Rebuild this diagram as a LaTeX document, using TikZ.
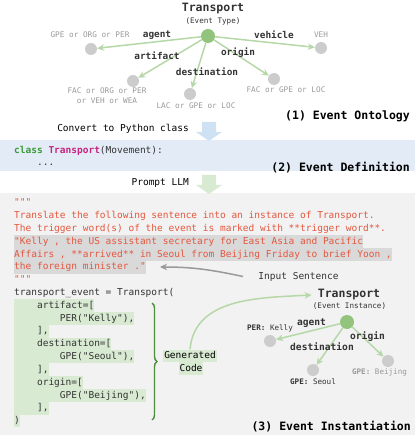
\documentclass[tikz,border=0pt]{standalone}
\usepackage{fontspec}
\setmonofont{DejaVu Sans Mono}
\renewcommand{\familydefault}{\ttdefault}
\usetikzlibrary{arrows.meta,decorations.pathreplacing}
\definecolor{edgegreen}{HTML}{B6D7A8}
\definecolor{nodegreen}{HTML}{93C47D}
\definecolor{nodegray}{HTML}{CCCCCC}
\definecolor{labgray}{HTML}{999999}
\definecolor{darktext}{HTML}{333333}
\definecolor{bggray}{HTML}{F2F2F2}
\definecolor{bandblue}{HTML}{E3ECF6}
\definecolor{arrowblue}{HTML}{CFE2F3}
\definecolor{arrowgreen}{HTML}{D9EAD3}
\definecolor{hlgreen}{HTML}{D9EAD3}
\definecolor{hlgray}{HTML}{D9D9D9}
\definecolor{codered}{HTML}{E4573F}
\definecolor{kwgreen}{HTML}{3A9A3A}
\definecolor{kwmag}{HTML}{C8237F}
\definecolor{bracegreen}{HTML}{4E8C3E}
\definecolor{ptrgray}{HTML}{999999}
\tikzset{
  evt/.style={circle, fill=nodegreen, minimum size=14pt, inner sep=0pt},
  arg/.style={circle, fill=nodegray, minimum size=12pt, inner sep=0pt},
  rel/.style={draw=edgegreen, line width=1.5pt, -{Stealth[length=7pt,width=6.5pt]}},
  typelab/.style={text=labgray, font=\ttfamily\fontsize{7.7}{9}\selectfont, inner sep=0pt},
  rolelab/.style={text=darktext, font=\ttfamily\fontsize{9.4}{11}\selectfont\bfseries, inner sep=0pt},
  titlelab/.style={text=darktext, font=\ttfamily\fontsize{11.5}{13}\selectfont\bfseries, inner sep=0pt},
  sublab/.style={text=darktext, font=\ttfamily\fontsize{7.6}{9}\selectfont, inner sep=0pt},
  sectlab/.style={text=black, font=\ttfamily\fontsize{11.5}{13}\selectfont\bfseries, inner sep=0pt, anchor=east},
  plain/.style={text=black, font=\ttfamily\fontsize{9.5}{11}\selectfont, inner sep=0pt},
  codeline/.style={font=\ttfamily\fontsize{9.5}{11}\selectfont, anchor=west, inner sep=0pt,
     text height=9.2pt, text depth=3.62pt},
  redline/.style={codeline, text=codered},
  greenline/.style={codeline, text=darktext, fill=hlgreen},
  grayline/.style={codeline, text=codered, fill=hlgray},
}
\begin{document}
\begin{tikzpicture}[x=1pt,y=-1pt]
\useasboundingbox (0,0) rectangle (415,435);
% backgrounds
\fill[bandblue] (0,140) rectangle (415,171);
\fill[bggray] (0,193) rectangle (415,435);
% block arrows
\fill[arrowblue] (202,122)--(216,122)--(216,132)--(222,132)--(209,141)--(196,132)--(202,132)--cycle;
\fill[arrowgreen] (202,175)--(216,175)--(216,185)--(222,185)--(209,194)--(196,185)--(202,185)--cycle;

% ---------- (1) Event Ontology ----------
\node[titlelab] (ttl) at (213,9) {Transport};
\node[sublab] (ttlsub) at (213,21) {(Event Type)};
\node[evt] (t) at (208,36) {};
\node[arg] (g1) at (91,49) {};
\node[arg] (g2) at (133,81) {};
\node[arg] (g3) at (190,94) {};
\node[arg] (g4) at (274,79) {};
\node[arg] (g5) at (321,48) {};
\draw[rel] (t) -- (g1);
\draw[rel] (t) -- (g2);
\draw[rel] (t) -- (g3);
\draw[rel] (t) -- (g4);
\draw[rel] (t) -- (g5);
\node[typelab] (l1) at (90,35) {GPE or ORG or PER};
\node[typelab] (l5) at (321,35) {VEH};
\node[typelab] (l2a) at (107,91) {FAC or ORG or PER};
\node[typelab] (l2b) at (107,101) {or VEH or WEA};
\node[typelab] (l3) at (196,106) {LAC or GPE or LOC};
\node[typelab] (l4) at (286,90) {FAC or GPE or LOC};
\node[rolelab] (r1) at (157,35) {agent};
\node[rolelab] (r5) at (274,35) {vehicle};
\node[rolelab] (r2) at (157,56) {artifact};
\node[rolelab] (r3) at (207,72) {destination};
\node[rolelab] (r4) at (238,53) {origin};
\node[sectlab] (s1) at (410,116) {(1) Event Ontology};

% ---------- (2) Event Definition ----------
\node[plain, anchor=east] (conv) at (189,129) {Convert to Python class};
\node[codeline] (cls) at (14,151) {\textcolor{kwgreen}{\bfseries class} \textcolor{kwmag}{\bfseries Transport}\textcolor{darktext}{(Movement):}};
\node[codeline, text=darktext] (dots) at (37,163) {...};
\node[sectlab] (s2) at (410,168) {(2) Event Definition};
\node[plain, anchor=east] (prompt) at (189,183) {Prompt LLM};

% ---------- (3) Event Instantiation ----------
\node[redline] (q1) at (14,203) {"""};
\node[redline] (p1) at (14,215.8) {Translate the following sentence into an instance of Transport.};
\node[redline] (p2) at (14,228.6) {The trigger word(s) of the event is marked with **trigger word**.};
\node[grayline] (k1) at (14,241.5) {"Kelly , the US assistant secretary for East Asia and Pacific\ };
\node[grayline] (k2) at (14,254.3) {Affairs , **arrived** in Seoul from Beijing Friday to brief Yoon ,\ };
\node[grayline] (k3) at (14,267.1) {the foreign minister ."\ };
\node[redline] (q2) at (14,279.9) {"""};
\node[codeline, text=darktext] (c0) at (14,292.7) {transport\_event = Transport(};
\node[greenline] (c1) at (14,305.6) {\hphantom{0000}artifact=[\hspace{2.5pt}};
\node[greenline] (c2) at (14,318.4) {\hphantom{00000000}PER("Kelly"),\hspace{2.5pt}};
\node[greenline] (c3) at (14,331.2) {\hphantom{0000}],\hspace{1pt}};
\node[greenline] (c4) at (14,344) {\hphantom{0000}destination=[\hspace{2.5pt}};
\node[greenline] (c5) at (14,356.8) {\hphantom{00000000}GPE("Seoul"),\hspace{2.5pt}};
\node[greenline] (c6) at (14,369.7) {\hphantom{0000}],\hspace{1pt}};
\node[greenline] (c7) at (14,382.5) {\hphantom{0000}origin=[\hspace{2.5pt}};
\node[greenline] (c8) at (14,395.3) {\hphantom{00000000}GPE("Beijing"),\hspace{2.5pt}};
\node[greenline] (c9) at (14,408.1) {\hphantom{0000}],\hspace{1pt}};
\node[greenline] (c10) at (14,420.9) {)\hspace{1pt}};

% input sentence pointer
\node[plain, text=darktext] (inp) at (298.5,277) {Input Sentence};
\coordinate (ptrTail) at (243,276.5);
\coordinate (ptrTip) at (160,267);
\draw[draw=ptrgray, line width=1.5pt, -{Stealth[length=7pt,width=6.5pt]}] (ptrTail) to[out=168,in=0] (ptrTip);

% brace
\coordinate (brTop) at (152,303);
\coordinate (brBot) at (152,420);
\draw[draw=bracegreen, line width=1.4pt, decorate, decoration={brace, amplitude=5pt}] (brTop) -- (brBot);

% Generated Code
\node[codeline, anchor=center, text=black, fill=hlgreen, inner xsep=1pt] (gen1) at (190,356) {Generated};
\node[codeline, anchor=center, text=black, fill=hlgreen, inner xsep=1pt] (gen2) at (191,368.8) {Code};

% instance graph
\node[titlelab] (ititle) at (349,295) {Transport};
\node[sublab] (isub) at (349.5,306) {(Event Instance)};
\node[evt] (it) at (347,322) {};
\node[arg] (ia) at (270,341) {};
\node[arg] (id) at (313,370) {};
\node[arg] (io) at (388,361) {};
\draw[rel] (it) -- (ia);
\draw[rel] (it) -- (id);
\draw[rel] (it) -- (io);
\draw[rel] (gen1.north) to[out=85,in=183] ([xshift=-6pt]ititle.west);
\node[sublab] (la) at (270,328) {\textbf{PER:} Kelly};
\node[sublab] (ld) at (313,382) {\textbf{GPE:} Seoul};
\node[sublab, text=labgray] (lo) at (379.5,372) {\textbf{GPE:} Beijing};
\node[rolelab, font=\ttfamily\fontsize{9.6}{11}\selectfont\bfseries] (ra) at (311.5,323) {agent};
\node[rolelab, font=\ttfamily\fontsize{9.6}{11}\selectfont\bfseries] (ro) at (367.5,337) {origin};
\node[rolelab, font=\ttfamily\fontsize{9.6}{11}\selectfont\bfseries] (rd) at (322,347) {destination};
\node[sectlab] (s3) at (411,427) {(3) Event Instantiation};
\end{tikzpicture}
\end{document}
